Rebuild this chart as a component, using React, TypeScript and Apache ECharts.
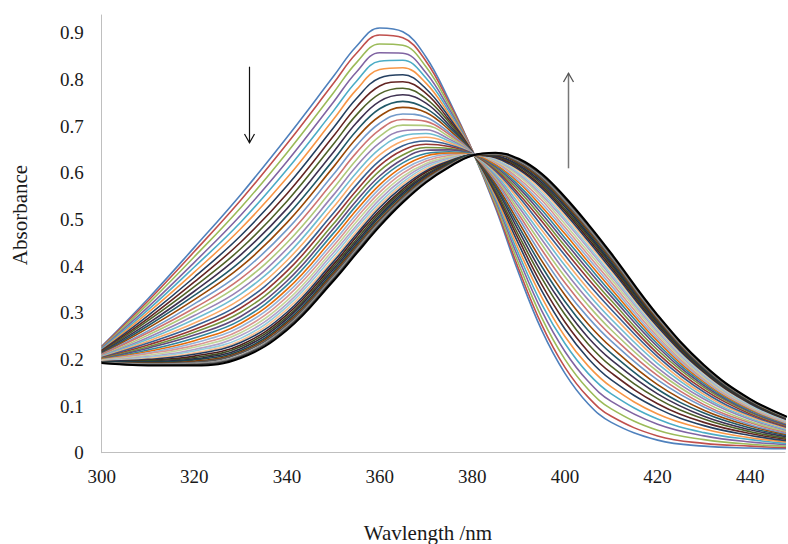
import React, { useEffect, useRef } from "react";
import * as echarts from "echarts";

const wavelengths = [300, 310, 320, 330, 340, 350, 355, 360, 365, 370, 375, 380, 385, 390, 395, 400, 405, 410, 420, 430, 440, 450];

const scan00 = [0.228, 0.330, 0.440, 0.553, 0.676, 0.806, 0.871, 0.910, 0.902, 0.848, 0.755, 0.648, 0.525, 0.385, 0.262, 0.170, 0.105, 0.065, 0.027, 0.014, 0.010, 0.008];
const scan01 = [0.227, 0.325, 0.431, 0.541, 0.662, 0.791, 0.856, 0.895, 0.889, 0.839, 0.750, 0.648, 0.529, 0.394, 0.274, 0.183, 0.119, 0.078, 0.036, 0.020, 0.014, 0.010];
const scan02 = [0.225, 0.319, 0.420, 0.525, 0.643, 0.771, 0.836, 0.876, 0.873, 0.827, 0.744, 0.647, 0.534, 0.405, 0.289, 0.200, 0.136, 0.094, 0.048, 0.028, 0.018, 0.013];
const scan03 = [0.224, 0.312, 0.408, 0.509, 0.624, 0.751, 0.816, 0.857, 0.856, 0.814, 0.737, 0.647, 0.540, 0.416, 0.304, 0.217, 0.153, 0.110, 0.061, 0.036, 0.023, 0.016];
const scan04 = [0.222, 0.306, 0.398, 0.494, 0.607, 0.732, 0.796, 0.839, 0.841, 0.803, 0.731, 0.646, 0.545, 0.426, 0.318, 0.234, 0.170, 0.126, 0.072, 0.043, 0.028, 0.018];
const scan05 = [0.220, 0.300, 0.387, 0.480, 0.589, 0.714, 0.778, 0.821, 0.825, 0.792, 0.725, 0.646, 0.550, 0.436, 0.333, 0.249, 0.186, 0.141, 0.083, 0.051, 0.032, 0.021];
const scan06 = [0.219, 0.294, 0.376, 0.465, 0.572, 0.696, 0.759, 0.803, 0.810, 0.780, 0.719, 0.645, 0.555, 0.447, 0.347, 0.265, 0.202, 0.156, 0.095, 0.058, 0.037, 0.023];
const scan07 = [0.218, 0.288, 0.366, 0.451, 0.555, 0.678, 0.741, 0.786, 0.795, 0.770, 0.713, 0.645, 0.560, 0.457, 0.360, 0.280, 0.217, 0.171, 0.105, 0.065, 0.041, 0.026];
const scan08 = [0.216, 0.283, 0.356, 0.437, 0.539, 0.661, 0.724, 0.769, 0.781, 0.759, 0.708, 0.644, 0.564, 0.466, 0.374, 0.296, 0.233, 0.185, 0.116, 0.072, 0.045, 0.028];
const scan09 = [0.215, 0.277, 0.346, 0.424, 0.523, 0.644, 0.707, 0.753, 0.767, 0.749, 0.702, 0.644, 0.569, 0.476, 0.386, 0.310, 0.247, 0.199, 0.126, 0.078, 0.049, 0.031];
const scan10 = [0.213, 0.272, 0.337, 0.410, 0.508, 0.627, 0.690, 0.737, 0.753, 0.738, 0.697, 0.644, 0.573, 0.485, 0.399, 0.324, 0.262, 0.213, 0.136, 0.085, 0.053, 0.033];
const scan11 = [0.212, 0.267, 0.328, 0.398, 0.493, 0.612, 0.674, 0.721, 0.740, 0.729, 0.692, 0.643, 0.577, 0.494, 0.411, 0.338, 0.276, 0.226, 0.146, 0.091, 0.057, 0.035];
const scan12 = [0.211, 0.261, 0.319, 0.385, 0.478, 0.596, 0.658, 0.706, 0.726, 0.719, 0.686, 0.643, 0.582, 0.503, 0.423, 0.351, 0.290, 0.239, 0.156, 0.098, 0.060, 0.037];
const scan13 = [0.210, 0.257, 0.310, 0.373, 0.464, 0.581, 0.643, 0.692, 0.714, 0.710, 0.682, 0.642, 0.586, 0.511, 0.435, 0.364, 0.303, 0.251, 0.165, 0.103, 0.064, 0.039];
const scan14 = [0.208, 0.252, 0.302, 0.362, 0.450, 0.566, 0.628, 0.678, 0.702, 0.701, 0.677, 0.642, 0.590, 0.519, 0.446, 0.377, 0.316, 0.263, 0.174, 0.109, 0.067, 0.041];
const scan15 = [0.207, 0.247, 0.294, 0.350, 0.437, 0.552, 0.614, 0.664, 0.690, 0.692, 0.672, 0.642, 0.593, 0.527, 0.457, 0.389, 0.328, 0.275, 0.182, 0.115, 0.071, 0.043];
const scan16 = [0.206, 0.243, 0.286, 0.340, 0.424, 0.539, 0.600, 0.651, 0.679, 0.684, 0.668, 0.641, 0.597, 0.534, 0.467, 0.401, 0.340, 0.286, 0.191, 0.120, 0.074, 0.045];
const scan17 = [0.205, 0.239, 0.278, 0.329, 0.412, 0.526, 0.587, 0.638, 0.668, 0.676, 0.664, 0.641, 0.601, 0.542, 0.477, 0.412, 0.351, 0.297, 0.199, 0.125, 0.077, 0.047];
const scan18 = [0.204, 0.235, 0.271, 0.319, 0.400, 0.513, 0.574, 0.626, 0.658, 0.668, 0.660, 0.641, 0.604, 0.549, 0.486, 0.423, 0.362, 0.307, 0.206, 0.130, 0.080, 0.049];
const scan19 = [0.203, 0.231, 0.264, 0.310, 0.389, 0.502, 0.562, 0.615, 0.648, 0.661, 0.656, 0.640, 0.607, 0.555, 0.496, 0.433, 0.373, 0.317, 0.213, 0.135, 0.083, 0.050];
const scan20 = [0.202, 0.227, 0.258, 0.301, 0.378, 0.490, 0.551, 0.604, 0.638, 0.654, 0.652, 0.640, 0.610, 0.562, 0.504, 0.443, 0.383, 0.326, 0.220, 0.140, 0.086, 0.052];
const scan21 = [0.201, 0.224, 0.252, 0.292, 0.368, 0.480, 0.540, 0.593, 0.629, 0.648, 0.649, 0.640, 0.613, 0.568, 0.512, 0.452, 0.392, 0.335, 0.227, 0.144, 0.088, 0.053];
const scan22 = [0.200, 0.220, 0.246, 0.284, 0.359, 0.470, 0.530, 0.584, 0.621, 0.641, 0.645, 0.640, 0.616, 0.573, 0.520, 0.460, 0.401, 0.343, 0.233, 0.148, 0.091, 0.055];
const scan23 = [0.200, 0.217, 0.240, 0.277, 0.350, 0.460, 0.520, 0.574, 0.613, 0.636, 0.642, 0.639, 0.618, 0.579, 0.527, 0.469, 0.409, 0.351, 0.239, 0.152, 0.093, 0.056];
const scan24 = [0.199, 0.214, 0.235, 0.270, 0.342, 0.451, 0.511, 0.566, 0.606, 0.630, 0.639, 0.639, 0.621, 0.583, 0.534, 0.476, 0.417, 0.358, 0.244, 0.155, 0.095, 0.057];
const scan25 = [0.198, 0.212, 0.230, 0.263, 0.334, 0.443, 0.503, 0.558, 0.599, 0.625, 0.637, 0.639, 0.623, 0.588, 0.541, 0.483, 0.424, 0.365, 0.249, 0.158, 0.097, 0.059];
const scan26 = [0.198, 0.209, 0.226, 0.257, 0.326, 0.435, 0.495, 0.550, 0.592, 0.620, 0.634, 0.639, 0.625, 0.593, 0.547, 0.490, 0.431, 0.372, 0.254, 0.161, 0.099, 0.060];
const scan27 = [0.197, 0.206, 0.221, 0.251, 0.319, 0.428, 0.487, 0.543, 0.586, 0.616, 0.631, 0.639, 0.627, 0.597, 0.552, 0.497, 0.438, 0.378, 0.259, 0.164, 0.101, 0.061];
const scan28 = [0.196, 0.204, 0.218, 0.245, 0.313, 0.421, 0.481, 0.536, 0.580, 0.612, 0.629, 0.638, 0.629, 0.600, 0.557, 0.502, 0.443, 0.383, 0.263, 0.167, 0.102, 0.062];
const scan29 = [0.196, 0.202, 0.214, 0.240, 0.307, 0.414, 0.474, 0.530, 0.575, 0.608, 0.627, 0.638, 0.631, 0.604, 0.562, 0.508, 0.449, 0.389, 0.267, 0.170, 0.104, 0.063];
const scan30 = [0.195, 0.200, 0.211, 0.236, 0.301, 0.409, 0.468, 0.525, 0.570, 0.604, 0.625, 0.638, 0.632, 0.607, 0.567, 0.513, 0.454, 0.393, 0.270, 0.172, 0.105, 0.063];
const scan31 = [0.195, 0.198, 0.207, 0.231, 0.296, 0.403, 0.463, 0.519, 0.565, 0.601, 0.623, 0.638, 0.634, 0.610, 0.571, 0.518, 0.459, 0.398, 0.274, 0.174, 0.107, 0.064];
const scan32 = [0.194, 0.197, 0.204, 0.227, 0.291, 0.398, 0.457, 0.514, 0.561, 0.597, 0.622, 0.638, 0.635, 0.613, 0.575, 0.522, 0.464, 0.402, 0.277, 0.176, 0.108, 0.065];
const scan33 = [0.194, 0.195, 0.201, 0.223, 0.287, 0.393, 0.452, 0.509, 0.557, 0.594, 0.620, 0.638, 0.636, 0.616, 0.579, 0.527, 0.468, 0.406, 0.280, 0.178, 0.109, 0.066];
const scan34 = [0.194, 0.194, 0.199, 0.219, 0.282, 0.388, 0.447, 0.505, 0.553, 0.591, 0.619, 0.638, 0.638, 0.619, 0.583, 0.531, 0.472, 0.410, 0.283, 0.180, 0.110, 0.066];
const scan35 = [0.193, 0.192, 0.196, 0.216, 0.278, 0.384, 0.443, 0.500, 0.549, 0.589, 0.617, 0.637, 0.639, 0.621, 0.586, 0.534, 0.476, 0.414, 0.285, 0.182, 0.111, 0.067];
const scan36 = [0.193, 0.191, 0.194, 0.213, 0.274, 0.380, 0.439, 0.497, 0.546, 0.586, 0.616, 0.637, 0.640, 0.623, 0.589, 0.538, 0.480, 0.417, 0.288, 0.183, 0.112, 0.067];
const scan37 = [0.193, 0.190, 0.192, 0.209, 0.270, 0.376, 0.435, 0.493, 0.543, 0.584, 0.615, 0.637, 0.641, 0.626, 0.592, 0.541, 0.483, 0.421, 0.290, 0.185, 0.113, 0.068];
const scan38 = [0.192, 0.188, 0.189, 0.206, 0.267, 0.372, 0.431, 0.489, 0.539, 0.581, 0.613, 0.637, 0.642, 0.628, 0.595, 0.545, 0.487, 0.424, 0.293, 0.186, 0.114, 0.069];
const scan39 = [0.192, 0.187, 0.187, 0.203, 0.263, 0.368, 0.427, 0.485, 0.536, 0.579, 0.612, 0.637, 0.643, 0.630, 0.598, 0.548, 0.490, 0.427, 0.295, 0.188, 0.115, 0.069];

const scans = [
  scan00, scan01, scan02, scan03, scan04, scan05, scan06, scan07, scan08, scan09,
  scan10, scan11, scan12, scan13, scan14, scan15, scan16, scan17, scan18, scan19,
  scan20, scan21, scan22, scan23, scan24, scan25, scan26, scan27, scan28, scan29,
  scan30, scan31, scan32, scan33, scan34, scan35, scan36, scan37, scan38, scan39,
];

const scanColors = [
  "#4F81BD", "#C0504D", "#9BBB59", "#8064A2", "#4BACC6", "#F79646",
  "#254061", "#632523", "#4F6228", "#3F3151", "#215968", "#984807",
  "#729ACA", "#CD7371", "#AFC97A", "#9983B5", "#6FBDD1", "#F9AB6B",
  "#376092", "#953735", "#77933C", "#604A7B", "#31859C", "#E46C0A",
  "#95B3D7", "#D99694", "#C3D69B", "#B3A2C7", "#93CDDD", "#FAC090",
  "#1F3A5F", "#4D1C1B", "#3D4C21", "#2F2540", "#1A4652", "#7A3A06",
  "#595959", "#8C8C8C", "#3F3F3F", "#000000",
];

const xTicks = [300, 320, 340, 360, 380, 400, 420, 440];
const yTicks = [0, 0.1, 0.2, 0.3, 0.4, 0.5, 0.6, 0.7, 0.8, 0.9];

const FONT = "'Liberation Serif', 'Times New Roman', serif";

export default function App() {
  const ref = useRef<HTMLDivElement>(null);
  useEffect(() => {
    if (!ref.current) return;
    const chart = echarts.init(ref.current, undefined, { renderer: "svg" });
    const series = scans.map((s, i) => ({
      type: "line",
      data: s.map((v, j) => [wavelengths[j], v]),
      showSymbol: false,
      smooth: 0.4,
      z: 2,
      lineStyle: { color: scanColors[i], width: i === scans.length - 1 ? 2 : 1.6 },
      itemStyle: { color: scanColors[i] },
    }));
    chart.setOption({
      animation: false,
      backgroundColor: "#ffffff",
      grid: { left: 101.7, right: 0, top: 15, bottom: 91.3, containLabel: false },
      xAxis: {
        type: "value",
        min: 300,
        max: 447.5,
        interval: 20,
        axisLine: { show: true, lineStyle: { color: "#BFBFBF", width: 1 } },
        axisTick: { show: false },
        splitLine: { show: false },
        axisLabel: {
          margin: 14,
          color: "#1a1a1a",
          fontFamily: FONT,
          fontSize: 19,
          formatter: (v: number) => (xTicks.includes(Math.round(v)) && Math.abs(v - Math.round(v)) < 1e-6 ? String(Math.round(v)) : ""),
        },
      },
      yAxis: {
        type: "value",
        min: 0,
        max: 0.938,
        interval: 0.1,
        axisLine: { show: true, lineStyle: { color: "#BFBFBF", width: 1 } },
        axisTick: { show: false },
        splitLine: { show: false },
        axisLabel: {
          margin: 18,
          color: "#1a1a1a",
          fontFamily: FONT,
          fontSize: 19,
          formatter: (v: number) => {
            const t = yTicks.find((y) => Math.abs(y - v) < 1e-6);
            if (t === undefined) return "";
            return t === 0 ? "0" : t.toFixed(1);
          },
        },
      },
      graphic: [
        {
          type: "text",
          x: 20,
          y: 215,
          rotation: Math.PI / 2,
          style: {
            text: "Absorbance",
            fontFamily: FONT,
            fontSize: 21,
            fill: "#1a1a1a",
            textAlign: "center",
            textVerticalAlign: "middle",
          },
        },
        {
          type: "text",
          x: 428,
          y: 533,
          style: {
            text: "Wavlength /nm",
            fontFamily: FONT,
            fontSize: 21,
            fill: "#1a1a1a",
            textAlign: "center",
            textVerticalAlign: "middle",
          },
        },
        {
          type: "line",
          shape: { x1: 249.5, y1: 66.7, x2: 249.5, y2: 142.7 },
          style: { stroke: "#111111", lineWidth: 1.2 },
          z: 10,
        },
        {
          type: "polyline",
          shape: { points: [[244.5, 134], [249.5, 142.7], [254.5, 134]] },
          style: { stroke: "#111111", lineWidth: 1.2, fill: null },
          z: 10,
        },
        {
          type: "line",
          shape: { x1: 568.5, y1: 168.3, x2: 568.5, y2: 73.3 },
          style: { stroke: "#777777", lineWidth: 1.5 },
          z: 10,
        },
        {
          type: "polyline",
          shape: { points: [[563.5, 82], [568.5, 73.3], [573.5, 82]] },
          style: { stroke: "#555555", lineWidth: 1.3, fill: null },
          z: 10,
        },
      ],
      series,
    });
    return () => chart.dispose();
  }, []);
  return (
    <div
      ref={ref}
      style={{ position: "fixed", left: 0, top: 0, width: 788, height: 544, background: "#fff" }}
    />
  );
}
